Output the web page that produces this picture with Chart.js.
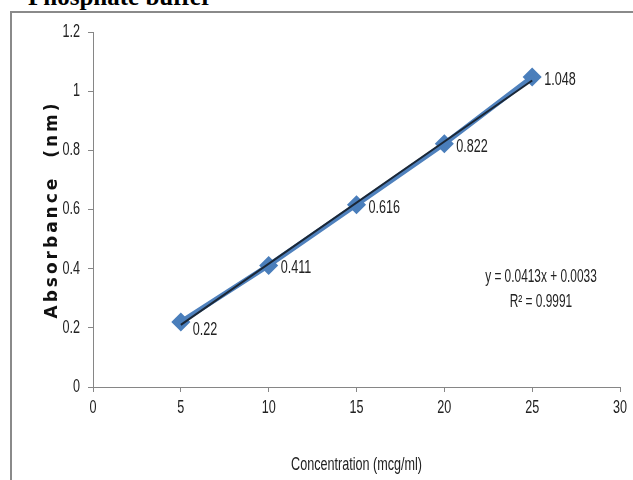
<!DOCTYPE html>
<html>
<head>
<meta charset="utf-8">
<script src="https://cdn.jsdelivr.net/npm/chart.js@4"></script>
<style>
  body { margin: 0; background: #fff; overflow: hidden; }
  #wrap { position: relative; width: 633px; height: 480px; overflow: hidden; }
  #title {
    position: absolute; left: 28px; top: -17px;
    font: bold 25px "Liberation Serif", "Times New Roman", serif; color: #000;
  }
  #frame {
    position: absolute; left: 10px; top: 11px; width: 700px; height: 600px;
    border: 2px solid #8a8a8a; box-sizing: border-box;
  }
  canvas { position: absolute; left: 0; top: 0; }
</style>
</head>
<body>
<div id="wrap">
  <div id="title">Phosphate buffer</div>
  <div id="frame"></div>
  <canvas id="chart" width="633" height="480"></canvas>
</div>
<script>
// Data
const concentrations = [5, 10, 15, 20, 25];
const absorbance = [0.22, 0.411, 0.616, 0.822, 1.048];
const pointLabels = ['0.22', '0.411', '0.616', '0.822', '1.048'];

// trendline end points (x = 5 and x = 25)
const trendX = [5, 25];
const trendY = [0.21, 1.036];

const yTickLabels = ['0', '0.2', '0.4', '0.6', '0.8', '1', '1.2'];
const xTickLabels = ['0', '5', '10', '15', '20', '25', '30'];

const equationText = 'y = 0.0413x + 0.0033';
const r2Text = 'R² = 0.9991';

const axisColor = '#868686';
const textFont = '18px "Liberation Sans", Arial, sans-serif';
const squeeze = 0.7; // the picture's text is tall and narrow

// text drawn narrow, like the condensed font of the original
function narrowText(ctx, text, x, y, align, k) {
  ctx.save();
  ctx.translate(x, y);
  ctx.scale(k || squeeze, 1);
  ctx.textAlign = align;
  ctx.fillText(text, 0, 0);
  ctx.restore();
}

// draws tick labels, point labels, equation and axis titles
const extrasPlugin = {
  id: 'extras',
  afterDatasetsDraw(chart) {
    const ctx = chart.ctx;
    const xs = chart.scales.x;
    const ys = chart.scales.y;
    const area = chart.chartArea;
    ctx.save();
    ctx.fillStyle = '#222';
    ctx.font = textFont;
    ctx.textBaseline = 'middle';

    // tick labels
    ys.ticks.forEach((t, i) => {
      narrowText(ctx, yTickLabels[i], area.left - 13, ys.getPixelForValue(t.value), 'right');
    });
    xs.ticks.forEach((t, i) => {
      narrowText(ctx, xTickLabels[i], xs.getPixelForValue(t.value), area.bottom + 21, 'center');
    });

    // point labels
    concentrations.forEach((c, i) => {
      const px = xs.getPixelForValue(c);
      const py = ys.getPixelForValue(absorbance[i]);
      const dy = i === 0 ? 8 : 3;
      narrowText(ctx, pointLabels[i], px + 12, py + dy, 'left');
    });

    // trendline equation
    narrowText(ctx, equationText, xs.getPixelForValue(25.5), ys.getPixelForValue(0.372), 'center', 0.66);
    narrowText(ctx, r2Text, xs.getPixelForValue(25.5), ys.getPixelForValue(0.287), 'center', 0.66);

    // x title
    narrowText(ctx, 'Concentration (mcg/ml)', (area.left + area.right) / 2, 465, 'center');

    // y title
    ctx.translate(53, (area.top + area.bottom) / 2);
    ctx.rotate(-Math.PI / 2);
    ctx.font = 'bold 17px "DejaVu Sans", sans-serif';
    ctx.letterSpacing = '3px';
    ctx.textAlign = 'center';
    ctx.fillStyle = '#111';
    ctx.fillText('Absorbance  (nm)', 0, 0);
    ctx.restore();
  }
};

const trendPoints = trendX.map((x, i) => ({ x: x, y: trendY[i] }));
const seriesPoints = concentrations.map((x, i) => ({ x: x, y: absorbance[i] }));

new Chart(document.getElementById('chart'), {
  type: 'scatter',
  data: {
    datasets: [
      {
        label: 'Linear',
        data: trendPoints,
        showLine: true,
        borderColor: '#1b2736',
        borderWidth: 2,
        pointRadius: 0,
        order: 0
      },
      {
        label: 'Absorbance',
        data: seriesPoints,
        showLine: true,
        borderColor: '#4f81bd',
        borderWidth: 5,
        pointStyle: 'rectRot',
        pointRadius: 6,
        pointBackgroundColor: '#4a7ebb',
        pointBorderColor: '#4a7ebb',
        order: 1
      }
    ]
  },
  options: {
    responsive: false,
    animation: false,
    layout: { padding: { left: 10, top: 32, right: 13, bottom: 0 } },
    plugins: {
      legend: { display: false },
      tooltip: { enabled: false }
    },
    scales: {
      x: {
        type: 'linear',
        min: 0,
        max: 30,
        afterFit: s => { s.height = 93; },
        ticks: { stepSize: 5, display: false },
        grid: { drawOnChartArea: false, color: axisColor, tickLength: 5 },
        border: { color: axisColor, width: 1 }
      },
      y: {
        min: 0,
        max: 1.2,
        afterFit: s => { s.width = 83; },
        ticks: { stepSize: 0.2, display: false },
        grid: { drawOnChartArea: false, color: axisColor, tickLength: 5 },
        border: { color: axisColor, width: 1 }
      }
    }
  },
  plugins: [extrasPlugin]
});
</script>
</body>
</html>
